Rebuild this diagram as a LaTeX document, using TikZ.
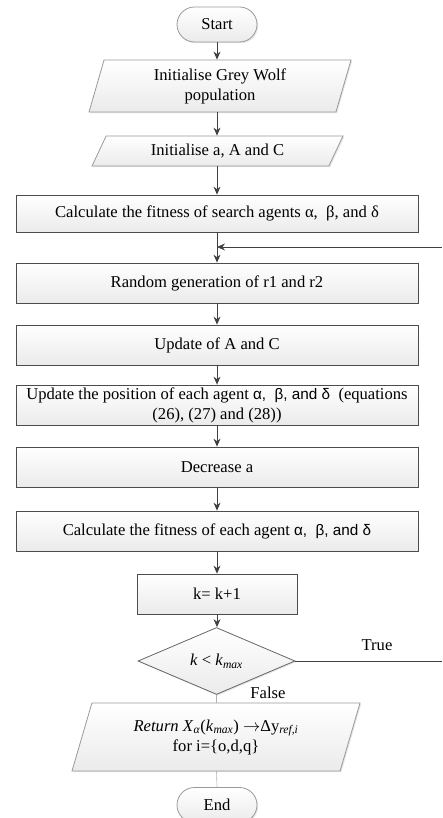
\documentclass[tikz,border=0pt]{standalone}
\usepackage{fontspec}
\setmainfont{Liberation Serif}
\newfontfamily\grsans[Scale=0.92]{Liberation Sans}
\usetikzlibrary{shapes.geometric,shapes.misc,arrows.meta,shadows}

\begin{document}
\begin{tikzpicture}[x=1pt,y=1pt,
            every node/.style={font=\fontsize{16.6}{20}\selectfont,align=center,inner sep=2pt},
            boxfill/.style={top color=white,bottom color=gray!16,draw=black!70,line width=0.8pt,
              drop shadow={shadow xshift=1.2pt,shadow yshift=-1.2pt,opacity=0.2}},
            proc/.style={boxfill,rectangle,minimum width=402,minimum height=40},
            term/.style={boxfill,draw=black!40,rounded rectangle,minimum width=84,minimum height=35},
            io/.style={boxfill,draw=black!40,trapezium,trapezium left angle=#1,
              trapezium right angle=180-#1,trapezium stretches body},
            decide/.style={boxfill,draw=black!60,diamond,minimum width=157,minimum height=48,inner sep=0pt},
            arr/.style={draw=black!75,line width=0.8pt,-{Stealth[length=8pt,width=7pt]}},
            flow/.style={draw=black!75,line width=0.8pt},
            thin/.style={draw=black!30,line width=0.6pt}
          ]
          \useasboundingbox (0,0) rectangle (442,-818);

          \node[term] (start) at (217,-24.5) {Start};
          \node[io=69,minimum width=262,minimum height=52] (init) at (220,-86) {Initialise Grey Wolf\\population};
          \node[io=52,minimum width=251,minimum height=30] (param) at (217.5,-151) {Initialise a, A and C};
          \node[proc,minimum height=37] (fit) at (217,-213.5) {Calculate the fitness of search agents α,\ \ β, and δ};
          \node[proc] (rnd) at (217,-283) {Random generation of r1 and r2};
          \node[proc] (upd) at (217,-345) {Update of A and C};
          \node[proc] (pos) at (217,-405) {Update the position of each agent {\grsans α,\ \ β, and δ}\ \ (equations\\(26), (27) and (28))};
          \node[proc] (dec) at (217,-467) {Decrease a};
          \node[proc] (fit2) at (217,-531) {Calculate the fitness of each agent {\grsans α,\ \ β, and δ}};
          \node[proc,minimum width=160] (inc) at (217,-594) {k= k+1};
          \node[decide] (cond) at (216.5,-661) {\textit{k} < \textit{k}\textsubscript{\textit{max}}};
          \node[io=63,minimum width=288,minimum height=68] (ret) at (216,-737)
            {\textit{Return X}\textsubscript{\textit{α}}(\textit{k}\textsubscript{\textit{max}}) $\rightarrow$Δy\textsubscript{\textit{ref,i}}\\for i=\{o,d,q\}};
          \node[term] (stop) at (217,-805) {End};

          \node (truelbl) at (377,-645) {True};
          \node (falselbl) at (268,-693) {False};

          \coordinate (back) at (442,-247);
          \coordinate (join) at (217,-247);
          \coordinate (trueend) at (442,-661);

          \draw[arr] (start.south) -- (start.south |- init.north);
          \draw[arr] (start.south |- init.south) -- (start.south |- param.north);
          \draw[arr] (start.south |- param.south) -- (fit.north);
          \draw[arr] (fit) -- (rnd);
          \draw[arr] (back) -- (join);
          \draw[arr] (rnd) -- (upd);
          \draw[arr] (upd) -- (pos);
          \draw[arr] (pos) -- (dec);
          \draw[arr] (dec) -- (fit2);
          \draw[arr] (fit2) -- (inc);
          \draw[arr] (inc) -- (inc |- cond.north);
          \draw[flow] (cond.east) -- (trueend);
          \draw[thin] (cond.south) -- (cond.south |- ret.north);
          \draw[thin] (cond.south |- ret.south) -- (stop.north);
\end{tikzpicture}
\end{document}
